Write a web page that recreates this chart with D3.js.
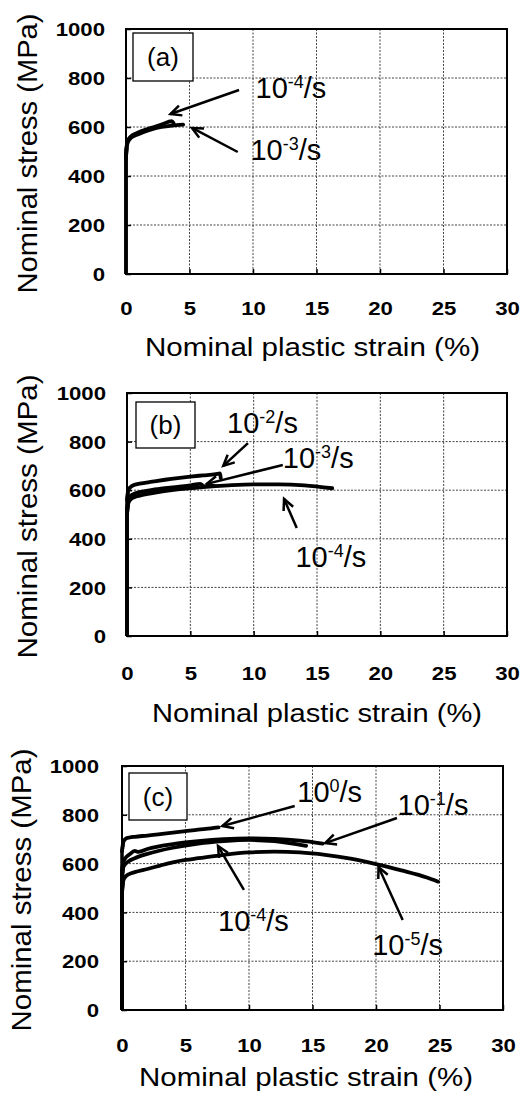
<!DOCTYPE html>
<html><head><meta charset="utf-8">
<script src="https://cdn.jsdelivr.net/npm/d3@7"></script>
<style>
html,body{margin:0;padding:0;background:#fff;}
svg{display:block;font-family:"Liberation Sans",Arial,sans-serif;}
</style></head>
<body>
<svg id="chart" width="526" height="1095"></svg>
<script>
// ---------- tick labels / axis text ----------
const xTicks = [0, 5, 10, 15, 20, 25, 30];
const yTicks = [0, 200, 400, 600, 800, 1000];
const xLabel = "Nominal plastic strain (%)";
const yLabel = "Nominal stress (MPa)";
const panelTags = ["(a)", "(b)", "(c)"];

// ---------- panel (a) ----------
const a_r3_strain = [0, 0, 0.05, 0.15, 0.4, 0.8, 1.3, 2.0, 2.8, 3.6, 4.5];
const a_r3_stress = [0, 470, 515, 538, 556, 567, 578, 590, 600, 606, 610];
const a_r4_strain = [0, 0, 0.05, 0.15, 0.4, 0.8, 1.3, 2.0, 2.8, 3.6, 3.75];
const a_r4_stress = [0, 480, 520, 545, 562, 574, 585, 597, 610, 624, 615];

// ---------- panel (b) ----------
const b_r2_strain = [0, 0, 0.1, 0.3, 0.6, 1, 2, 3, 4, 5, 6, 7, 7.35, 7.4];
const b_r2_stress = [0, 560, 600, 614, 622, 627, 635, 643, 650, 656, 661, 666, 669, 650];
const b_r3_strain = [0, 0, 0.1, 0.3, 0.6, 1, 2, 3, 4, 5, 5.8, 6.0];
const b_r3_stress = [0, 520, 560, 577, 586, 592, 601, 608, 614, 620, 626, 618];
const b_r4_strain = [0, 0, 0.1, 0.3, 0.6, 1, 2, 4, 6, 8, 10, 12, 14, 16.2];
const b_r4_stress = [0, 500, 545, 563, 572, 578, 588, 603, 613, 620, 624, 624, 620, 608];

// ---------- panel (c) ----------
const c_r0_strain = [0, 0, 0.1, 0.3, 0.6, 1, 2, 3, 4, 5, 6, 7, 7.6];
const c_r0_stress = [0, 650, 688, 702, 707, 710, 715, 721, 727, 733, 739, 744, 748];
const c_r1_strain = [0, 0, 0.1, 0.3, 0.6, 1.0, 1.3, 2, 4, 6, 8, 10, 12, 14, 15.8];
const c_r1_stress = [0, 570, 605, 625, 638, 652, 648, 660, 680, 692, 700, 703, 701, 694, 682];
const c_r4_strain = [0, 0, 0.1, 0.3, 0.6, 1, 2, 4, 6, 8, 10, 12, 14.5];
const c_r4_stress = [0, 540, 585, 600, 612, 622, 640, 665, 682, 692, 697, 692, 673];
const c_r5_strain = [0, 0, 0.1, 0.3, 0.6, 1, 2, 3, 4, 5, 6, 8, 10, 12, 14, 16, 18, 20, 22, 24, 24.9];
const c_r5_stress = [0, 480, 530, 548, 558, 565, 578, 592, 605, 615, 622, 636, 646, 649, 646, 636, 620, 598, 572, 543, 526];

// ---------- annotations (data units): exponent, text x/y, arrow tail x/y, arrow head x/y ----------
const a_notes_exp   = ["-4", "-3"];
const a_notes_text  = [[10.2, 718], [9.8, 465]];
const a_notes_tail  = [[8.9, 751], [8.8, 498]];
const a_notes_head  = [[3.5, 653], [5.2, 596]];

const b_notes_exp   = ["-2", "-3", "-4"];
const b_notes_text  = [[7.9, 835], [12.3, 691], [13.3, 284]];
const b_notes_tail  = [[9.55, 794], [12.3, 704], [13.4, 444]];
const b_notes_head  = [[7.6, 700], [6.3, 626], [12.4, 564]];

const c_notes_exp   = ["0", "-1", "-4", "-5"];
const c_notes_text  = [[13.8, 852], [21.7, 799], [7.56, 324], [19.7, 225]];
const c_notes_tail  = [[13.6, 836], [21.65, 787], [9.6, 492], [22.1, 369]];
const c_notes_head  = [[7.9, 754], [16.0, 684], [7.56, 672], [20.2, 586]];

// ---------- layout ----------
const layout = [
  {l:126, r:507, t:29,  b:274, xPad:28, yLab:21, xLabY:356, xLabX0:145, xLabW:335, yLabX:37, yLabW:280, tag:[133,33,60,48]},
  {l:127, r:507, t:393, b:636, xPad:31, yLab:21, xLabY:722, xLabX0:152, xLabW:330, yLabX:37, yLabW:284, tag:[136,402,59,46]},
  {l:122, r:503, t:766, b:1010, xPad:29, yLab:23, xLabY:1086, xLabX0:139, xLabW:334, yLabX:31, yLabW:283, tag:[129,773,58,47]}
];

const panels = [
  {series:[[a_r3_strain,a_r3_stress],[a_r4_strain,a_r4_stress]],
   notes:{exp:a_notes_exp,text:a_notes_text,tail:a_notes_tail,head:a_notes_head}},
  {series:[[b_r2_strain,b_r2_stress],[b_r3_strain,b_r3_stress],[b_r4_strain,b_r4_stress]],
   notes:{exp:b_notes_exp,text:b_notes_text,tail:b_notes_tail,head:b_notes_head}},
  {series:[[c_r0_strain,c_r0_stress],[c_r1_strain,c_r1_stress],[c_r4_strain,c_r4_stress],[c_r5_strain,c_r5_stress]],
   notes:{exp:c_notes_exp,text:c_notes_text,tail:c_notes_tail,head:c_notes_head}}
];

const svg = d3.select("#chart");

panels.forEach((p, i) => {
  const L = layout[i];
  const x = d3.scaleLinear().domain([0, 30]).range([L.l, L.r]);
  const y = d3.scaleLinear().domain([0, 1000]).range([L.b, L.t]);
  const g = svg.append("g");

  // grid
  g.append("g").selectAll("line").data(xTicks.slice(1, -1)).join("line")
    .attr("x1", d => x(d)).attr("x2", d => x(d)).attr("y1", L.t).attr("y2", L.b)
    .attr("stroke", "#444").attr("stroke-width", 1).attr("stroke-dasharray", "2,1.5");
  g.append("g").selectAll("line").data(yTicks.slice(1, -1)).join("line")
    .attr("y1", d => y(d)).attr("y2", d => y(d)).attr("x1", L.l).attr("x2", L.r)
    .attr("stroke", "#444").attr("stroke-width", 1).attr("stroke-dasharray", "2,1.5");

  // axes
  const xa = g.append("g").attr("transform", `translate(0,${L.b})`)
    .call(d3.axisBottom(x).tickValues(xTicks).tickFormat(d3.format("d"))
      .tickSizeInner(-5).tickSizeOuter(0).tickPadding(L.xPad));
  const ya = g.append("g").attr("transform", `translate(${L.l},0)`)
    .call(d3.axisLeft(y).tickValues(yTicks).tickFormat(d3.format("d"))
      .tickSizeInner(-5).tickSizeOuter(0));
  [xa, ya].forEach(a => {
    a.select(".domain").remove();
    a.selectAll(".tick line").attr("stroke", "#000").attr("stroke-width", 1.5);
    a.selectAll(".tick text").attr("font-size", 18.5).attr("font-weight", "bold")
      .attr("font-family", "Liberation Sans, Arial, sans-serif").attr("fill", "#000");
  });
  xa.selectAll(".tick text").attr("transform", "scale(1.2,1)");
  ya.selectAll(".tick text").attr("x", -L.yLab / 1.2).attr("dy", "0.36em").attr("transform", "scale(1.2,1)");

  // frame
  g.append("rect").attr("x", L.l).attr("y", L.t).attr("width", L.r - L.l).attr("height", L.b - L.t)
    .attr("fill", "none").attr("stroke", "#000").attr("stroke-width", 2);

  // curves
  const line = d3.line().x(d => x(d[0])).y(d => y(d[1])).curve(d3.curveMonotoneX);
  const lineV = d3.line().x(d => x(d[0])).y(d => y(d[1]));
  p.series.forEach(([xs, ys]) => {
    const pts = xs.map((v, k) => [v, ys[k]]);
    g.append("path").attr("d", lineV(pts.slice(0, 3)))
      .attr("fill", "none").attr("stroke", "#000").attr("stroke-width", 3.5).attr("stroke-linejoin", "round");
    g.append("path").attr("d", line(pts.slice(1)))
      .attr("fill", "none").attr("stroke", "#000").attr("stroke-width", 3.8)
      .attr("stroke-linejoin", "round").attr("stroke-linecap", "round");
  });

  // tag box
  const [tx, ty, tw, th] = L.tag;
  g.append("rect").attr("x", tx).attr("y", ty).attr("width", tw).attr("height", th)
    .attr("fill", "#fff").attr("stroke", "#000").attr("stroke-width", 1.3);
  g.append("text").attr("x", tx + tw / 2).attr("y", ty + th / 2 + 9).attr("text-anchor", "middle")
    .attr("font-size", 26).attr("fill", "#000").text(panelTags[i]);

  // annotations
  const n = p.notes;
  n.exp.forEach((e, k) => {
    const [x0, y0] = [x(n.tail[k][0]), y(n.tail[k][1])];
    const [x1, y1] = [x(n.head[k][0]), y(n.head[k][1])];
    g.append("line").attr("x1", x0).attr("y1", y0).attr("x2", x1).attr("y2", y1)
      .attr("stroke", "#000").attr("stroke-width", 2.5);
    const ang = Math.atan2(y0 - y1, x0 - x1);
    const hl = 12, ha = 0.45;
    const hp = `M${x1 + hl * Math.cos(ang + ha)},${y1 + hl * Math.sin(ang + ha)}L${x1},${y1}L${x1 + hl * Math.cos(ang - ha)},${y1 + hl * Math.sin(ang - ha)}`;
    g.append("path").attr("d", hp).attr("fill", "none").attr("stroke", "#000")
      .attr("stroke-width", 2.5).attr("stroke-linejoin", "miter");
    const t = g.append("text").attr("x", x(n.text[k][0])).attr("y", y(n.text[k][1]))
      .attr("font-size", 29).attr("fill", "#000");
    t.append("tspan").text("10");
    t.append("tspan").attr("font-size", 18).attr("dy", -10).text(e);
    t.append("tspan").attr("dy", 10).text("/s");
  });

  // axis titles
  g.append("text").attr("x", L.xLabX0).attr("y", L.xLabY).attr("font-size", 26)
    .attr("textLength", L.xLabW).attr("lengthAdjust", "spacingAndGlyphs").attr("fill", "#000").text(xLabel);
  const yc = (L.t + L.b) / 2 + 2;
  g.append("text").attr("transform", `translate(${L.yLabX},${yc}) rotate(-90)`)
    .attr("text-anchor", "middle").attr("font-size", 28)
    .attr("textLength", L.yLabW).attr("lengthAdjust", "spacingAndGlyphs").attr("fill", "#000").text(yLabel);
});
</script>
</body></html>
